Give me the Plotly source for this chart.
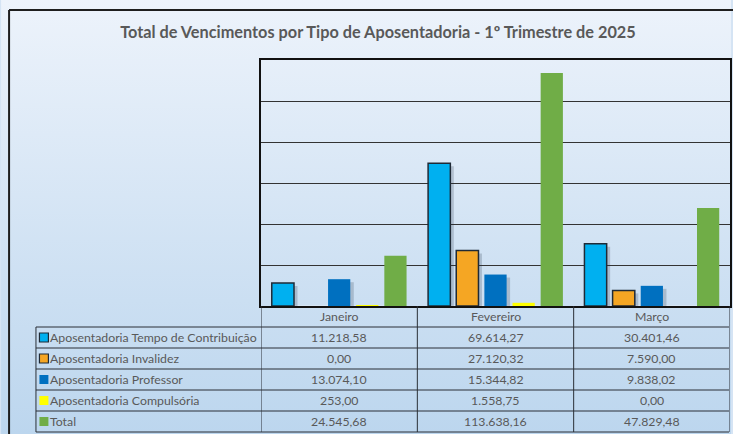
import plotly.graph_objects as go

months = ["Janeiro", "Fevereiro", "Março"]
series_names = [
    "Aposentadoria Tempo de Contribuição",
    "Aposentadoria Invalidez",
    "Aposentadoria Professor",
    "Aposentadoria Compulsória",
    "Total",
]
tempo_contrib = [11218.58, 69614.27, 30401.46]
invalidez = [0.00, 27120.32, 7590.00]
professor = [13074.10, 15344.82, 9838.02]
compulsoria = [253.00, 1558.75, 0.00]
total = [24545.68, 113638.16, 47829.48]
series_values = [tempo_contrib, invalidez, professor, compulsoria, total]
colors = ["#00B0F0", "#F5A623", "#0070C0", "#FFFF00", "#70AD47"]
outlined = [True, True, False, False, False]
shadowed = [True, True, True, False, False]

W, H = 733, 434
L, R, T, B = 261, 1, 60, 128
PW, PH = W - L - R, H - T - B
YMAX = 120000


def px(x):
    return (x - L) / PW


def py(y):
    return (H - B - y) / PH


def fmt_br(v):
    s = f"{v:,.2f}"
    return s.replace(",", "#").replace(".", ",").replace("#", ".")


fig = go.Figure()
# invisible trace to set up the main axes (grid)
fig.add_trace(go.Bar(x=months, y=[0, 0, 0], showlegend=False, hoverinfo="skip",
                     marker=dict(color="rgba(0,0,0,0)")))
# shadows
for name, vals, sh in zip(series_names, series_values, shadowed):
    fig.add_trace(go.Bar(x=months, y=vals, name=name + " sombra", xaxis="x2", yaxis="y2",
                         hoverinfo="skip",
                         marker=dict(color="rgba(40,55,75,0.22)" if sh else "rgba(0,0,0,0)",
                                     line=dict(width=0))))
# bars
for name, vals, col, ol in zip(series_names, series_values, colors, outlined):
    widths = [(1.5 if (ol and v > 0) else 0) for v in vals]
    fig.add_trace(go.Bar(
        x=months, y=vals, name=name, xaxis="x3", yaxis="y3",
        marker=dict(color=col, line=dict(color="#1F2A36" if ol else col, width=widths)),
    ))

# background gradient image
svg = ("data:image/svg+xml;utf8,<svg xmlns='http://www.w3.org/2000/svg' width='733' height='434'>"
       "<defs><linearGradient id='g' x1='0' y1='0' x2='0' y2='1'>"
       "<stop offset='0' stop-color='%23EDF3FB'/><stop offset='1' stop-color='%23BCD6EE'/>"
       "</linearGradient></defs><rect width='733' height='434' fill='url(%23g)'/></svg>")

shapes = []
line_col = "#2A2F36"
shapes.append(dict(type="line", xref="paper", yref="paper", x0=px(8), x1=px(740), y0=py(10), y1=py(10),
                   line=dict(color="#1E1E1E", width=2)))
shapes.append(dict(type="line", xref="paper", yref="paper", x0=px(8), x1=px(8), y0=py(10), y1=py(440),
                   line=dict(color="#1E1E1E", width=2)))

row_tops = [306, 327, 348, 369, 390, 411, 432]
for yy in row_tops[1:]:
    shapes.append(dict(type="line", xref="paper", yref="paper", x0=px(35), x1=px(731), y0=py(yy), y1=py(yy),
                       line=dict(color=line_col, width=1)))
shapes.append(dict(type="line", xref="paper", yref="paper", x0=px(35), x1=px(35), y0=py(327), y1=py(432),
                   line=dict(color=line_col, width=1)))
for k in range(len(months) + 1):
    shapes.append(dict(type="line", xref="x", yref="paper", x0=k - 0.5, x1=k - 0.5, y0=0, y1=py(432),
                       line=dict(color=line_col, width=1)))

annotations = []
font_t = dict(family="Lato, Calibri, sans-serif", size=12.3, color="#595959")
for j, m in enumerate(months):
    annotations.append(dict(x=j, y=py(316.5), xref="x", yref="paper", text=m, showarrow=False,
                            font=font_t, xanchor="center", yanchor="middle"))
for i, (name, vals, col, ol) in enumerate(zip(series_names, series_values, colors, outlined)):
    cy = (row_tops[i + 1] + row_tops[i + 2]) / 2
    shapes.append(dict(type="rect", xref="paper", yref="paper", x0=px(38.5), x1=px(47.5),
                       y0=py(cy - 4.5), y1=py(cy + 4.5), fillcolor=col,
                       line=dict(color="#1F2A36" if ol else col, width=1.2 if ol else 0)))
    annotations.append(dict(x=px(47.5), y=py(cy), xref="paper", yref="paper", text=name, showarrow=False,
                            font=font_t, xanchor="left", yanchor="middle"))
    for j, v in enumerate(vals):
        annotations.append(dict(x=j, y=py(cy), xref="x", yref="paper", text=fmt_br(v), showarrow=False,
                                font=font_t, xanchor="center", yanchor="middle"))

cat_w = PW / len(months)
dx = 3.5 / cat_w
dy = 3 * YMAX / PH
hidden = dict(visible=False, showgrid=False, zeroline=False, fixedrange=True)

fig.update_layout(
    width=W, height=H,
    margin=dict(l=L, r=R, t=T, b=B),
    paper_bgcolor="#D5E4F4",
    plot_bgcolor="rgba(0,0,0,0)",
    barmode="group", bargap=0.1, bargroupgap=0.21,
    showlegend=False,
    title=dict(text="Total de Vencimentos por Tipo de Aposentadoria - 1º Trimestre de 2025",
               x=378 / W, xref="container", y=1 - 32 / H, yref="container",
               xanchor="center", yanchor="middle",
               font=dict(family="Lato, Calibri, sans-serif", size=16.3, color="#595959", weight="bold")),
    xaxis=dict(range=[-0.5, 2.5], showticklabels=False, ticks="", showline=True, linecolor="#111",
               linewidth=2, mirror=True, showgrid=False, zeroline=False),
    yaxis=dict(range=[0, YMAX], dtick=20000, showticklabels=False, ticks="", showgrid=True,
               gridcolor="#333", gridwidth=1, showline=True, linecolor="#111", linewidth=1.5, mirror=True,
               zeroline=False),
    xaxis2=dict(range=[-0.5 - dx, 2.5 - dx], overlaying="x", **hidden),
    yaxis2=dict(range=[dy, YMAX + dy], overlaying="y", **hidden),
    xaxis3=dict(range=[-0.5, 2.5], overlaying="x", **hidden),
    yaxis3=dict(range=[0, YMAX], overlaying="y", **hidden),
    images=[dict(source=svg, xref="paper", yref="paper", x=px(0), y=py(0), sizex=W / PW, sizey=H / PH,
                 sizing="stretch", layer="below", xanchor="left", yanchor="top")],
    shapes=shapes,
    annotations=annotations,
)

fig.write_html("out.html", config={"displayModeBar": False},
               post_script="document.body.style.margin='0';document.body.style.overflow='hidden';")
